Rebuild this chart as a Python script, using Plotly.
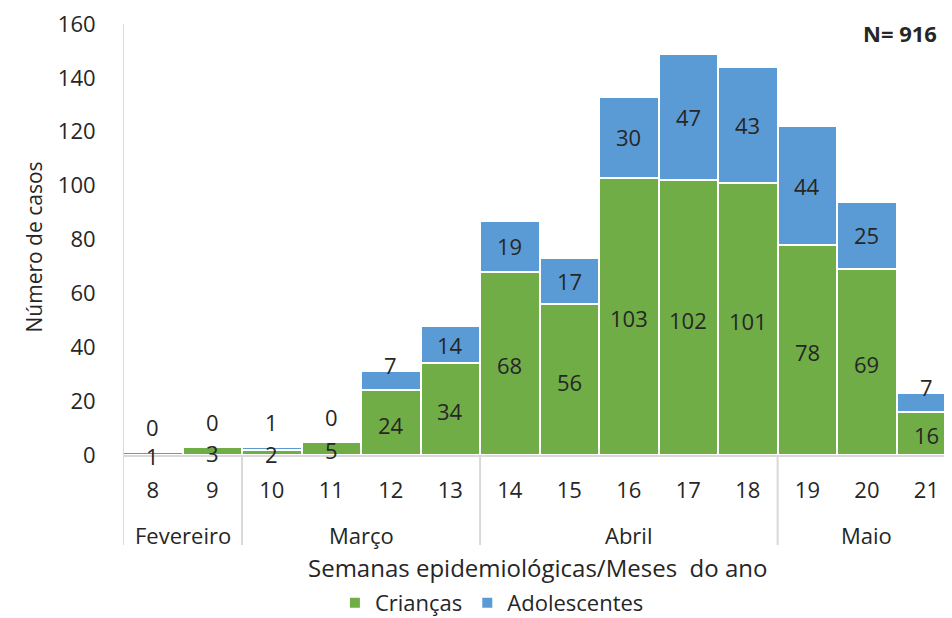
import plotly.graph_objects as go

weeks = ["8", "9", "10", "11", "12", "13", "14", "15", "16", "17", "18", "19", "20", "21"]
criancas = [1, 3, 2, 5, 24, 34, 68, 56, 103, 102, 101, 78, 69, 16]
adolescentes = [0, 0, 1, 0, 7, 14, 19, 17, 30, 47, 43, 44, 25, 7]
months = ["Fevereiro", "Março", "Abril", "Maio"]
month_spans = [(0, 1), (2, 5), (6, 10), (11, 13)]
y_ticks = [0, 20, 40, 60, 80, 100, 120, 140, 160]

FONT = "Open Sans, Liberation Sans, sans-serif"
GREEN = "#70AD47"
BLUE = "#5B9BD5"
TXT = "#262626"
GRID = "#D9D9D9"

x_idx = list(range(len(weeks)))

fig = go.Figure()
fig.add_trace(go.Bar(x=x_idx, y=criancas, name="Crianças", marker=dict(color=GREEN, line=dict(color="white", width=2))))
fig.add_trace(go.Bar(x=x_idx, y=adolescentes, name="Adolescentes", marker=dict(color=BLUE, line=dict(color="white", width=2))))

LBL = dict(size=22, color=TXT, family=FONT)
ann = []
for i, (c, a) in enumerate(zip(criancas, adolescentes)):
    ann.append(dict(x=i, y=c / 2, yshift=-2, text=str(c), showarrow=False, xref="x", yref="y",
                    yanchor="middle", font=LBL))
    tot = c + a
    if a >= 10:
        ann.append(dict(x=i, y=c + a / 2, text=str(a), showarrow=False, xref="x", yref="y",
                        yanchor="middle", font=LBL))
    else:
        shift = 25 if tot < 10 else 6
        ann.append(dict(x=i, y=tot, yshift=shift, text=str(a), showarrow=False, xref="x", yref="y",
                        yanchor="middle", font=LBL))

for m, (s, e) in zip(months, month_spans):
    ann.append(dict(x=(s + e) / 2, y=-0.186, xref="x", yref="paper", text=m, showarrow=False,
                    xanchor="center", yanchor="middle", font=dict(size=22, color=TXT, family=FONT)))

ann.append(dict(x=0.5, y=-0.262, xref="paper", yref="paper", text="Semanas epidemiológicas/Meses  do ano",
                xanchor="center", yanchor="middle", showarrow=False,
                font=dict(size=24, color=TXT, family=FONT)))
ann.append(dict(x=0.937, y=0.979, xref="paper", yref="paper", text="<b>N= 916</b>",
                xanchor="center", yanchor="middle", showarrow=False,
                font=dict(size=22, color=TXT, family=FONT)))
ann.append(dict(x=0, xshift=-90, y=0.5, yshift=-8, xref="paper", yref="paper", text="Número de casos",
                textangle=-90, xanchor="center", yanchor="middle", showarrow=False,
                font=dict(size=21, color=TXT, family=FONT)))

shapes = [dict(type="line", xref="x", yref="paper", x0=-0.5, x1=-0.5, y0=-0.209, y1=1,
               line=dict(color=GRID, width=2))]
for s, e in month_spans[:-1]:
    shapes.append(dict(type="line", xref="x", yref="paper", x0=e + 0.5, x1=e + 0.5, y0=-0.209, y1=0,
                       line=dict(color=GRID, width=2)))

fig.update_layout(
    width=944, height=610,
    barmode="stack", bargap=0,
    margin=dict(l=115, r=0, t=16, b=163, autoexpand=False),
    plot_bgcolor="white", paper_bgcolor="white",
    font=dict(family=FONT, size=22, color=TXT),
    showlegend=True,
    legend=dict(orientation="h", x=0.445, xanchor="center", y=-0.343, yanchor="middle",
                font=dict(size=22, color=TXT, family=FONT), traceorder="normal", itemwidth=30,
                tracegroupgap=0),
    annotations=ann,
    shapes=shapes,
    xaxis=dict(tickmode="array", tickvals=x_idx, ticktext=weeks, range=[-0.5, 13.43],
               showline=True, linecolor=GRID, linewidth=2, ticks="outside", ticklen=15,
               tickcolor="rgba(0,0,0,0)", showgrid=False, zeroline=False, automargin=False,
               tickfont=dict(size=22, color=TXT, family=FONT)),
    yaxis=dict(range=[0, 160], tickvals=y_ticks, showgrid=False, zeroline=False, showline=False,
               ticks="outside", ticklen=22, tickcolor="rgba(0,0,0,0)", automargin=False,
               ticklabeloverflow="allow",
               tickfont=dict(size=22, color=TXT, family=FONT)),
)

fig.write_html("out.html")
